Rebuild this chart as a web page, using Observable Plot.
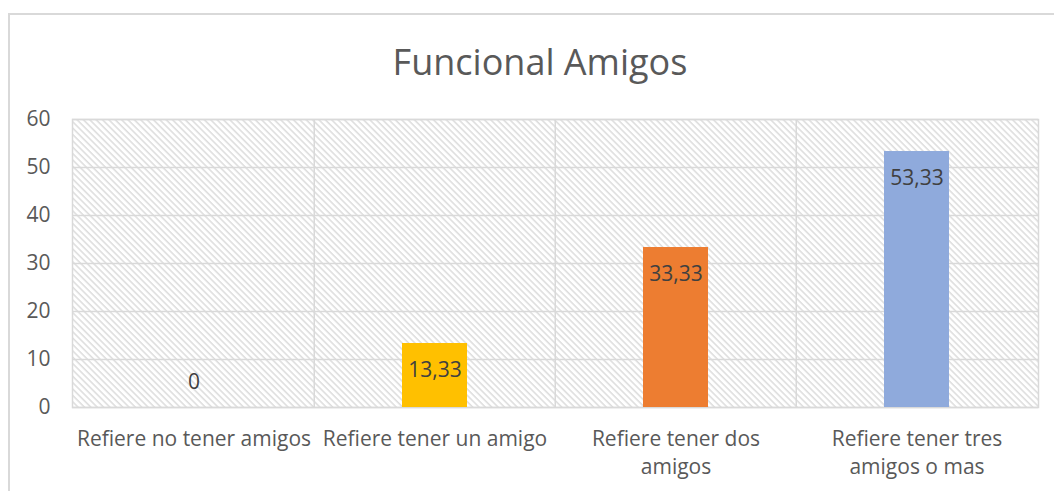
<!DOCTYPE html>
<html>
<head>
<meta charset="utf-8">
<script src="https://cdn.jsdelivr.net/npm/d3@7"></script>
<script src="https://cdn.jsdelivr.net/npm/@observablehq/plot@0.6"></script>
<style>
  html, body { margin: 0; padding: 0; background: #fff; }
  #wrap { position: relative; width: 1054px; height: 491px; overflow: hidden; font-family: "Open Sans", Lato, sans-serif; }
  #border { position: absolute; left: 8px; top: 13px; width: 1100px; height: 600px; border: 2px solid #d9d9d9; box-sizing: border-box; }
  #title { position: absolute; left: 9px; width: 1062px; top: 38px; text-align: center; font-size: 36px; color: #595959; line-height: 48px; }
  #chart { position: absolute; left: 0; top: 95px; }
</style>
</head>
<body>
<div id="wrap">
  <div id="border"></div>
  <div id="title">Funcional Amigos</div>
  <div id="chart"></div>
</div>
<script>
const categories = ["Refiere no tener amigos", "Refiere tener un amigo", "Refiere tener dos amigos", "Refiere tener tres amigos o mas"];
const values = [0, 13.33, 33.33, 53.33];
const labels = ["0", "13,33", "33,33", "53,33"];
const colors = ["#ffffff", "#FFC000", "#ED7D31", "#8FAADC"];
const tickLabels = ["Refiere no tener amigos", "Refiere tener un amigo", "Refiere tener dos\namigos", "Refiere tener tres\namigos o mas"];
const yTicks = [0, 10, 20, 30, 40, 50, 60];

const data = categories.map((c, i) => ({cat: c, value: values[i], label: labels[i], color: colors[i]}));
const tickMap = new Map(categories.map((c, i) => [c, tickLabels[i]]));

const W = 1054, ML = 72, MR = 16;
const band = (W - ML - MR) / categories.length;
const grid = "#d9d9d9";
const FS = 21;
const chart = Plot.plot({
  width: W,
  height: 396,
  marginTop: 24,
  marginBottom: 84,
  marginLeft: ML,
  marginRight: MR,
  style: {fontFamily: "'Open Sans', Lato, sans-serif", fontSize: FS + "px", color: "#595959", background: "transparent", overflow: "visible"},
  x: {domain: categories, padding: 0, axis: null, label: null},
  y: {domain: [0, 60], axis: null, label: null},
  marks: [
    Plot.frame({fill: "white", stroke: "none", className: "hatch-frame"}),
    Plot.ruleY(yTicks, {stroke: grid, strokeWidth: 1.5}),
    Plot.ruleX(categories.slice(1), {x: d => d, dx: -band / 2, stroke: grid, strokeWidth: 1.5}),
    Plot.frame({stroke: grid, strokeWidth: 1.5}),
    Plot.barY(data, {x: "cat", y: "value", fill: "color", insetLeft: 88, insetRight: 88}),
    Plot.text(data.filter(d => d.value > 0), {x: "cat", y: "value", text: "label", dy: 27, fill: "#404040", fontSize: FS}),
    Plot.text(data.filter(d => d.value === 0), {x: "cat", y: "value", text: "label", dy: -25, fill: "#404040", fontSize: FS}),
    Plot.axisY(yTicks, {tickSize: 0, tickPadding: 22, fill: "#595959", fontSize: FS, label: null, tickFormat: d => String(d)}),
    Plot.axisX(categories, {tickSize: 0, tickPadding: 18, fill: "#595959", fontSize: FS, label: null, lineHeight: 1.36, tickFormat: d => tickMap.get(d), textOverflow: null, lineWidth: Infinity})
  ]
});

// hatch pattern
const svg = d3.select(chart);
const defs = svg.insert("defs", ":first-child");
const pat = defs.append("pattern").attr("id", "hatch").attr("patternUnits", "userSpaceOnUse")
  .attr("width", 4.5).attr("height", 4.5).attr("patternTransform", "rotate(-45)");
pat.append("rect").attr("width", 4.5).attr("height", 4.5).attr("fill", "white");
pat.append("line").attr("x1", 1).attr("y1", 0).attr("x2", 1).attr("y2", 4.5).attr("stroke", "#d6d6d6").attr("stroke-width", 1.3);
svg.selectAll(".hatch-frame, .hatch-frame rect").attr("fill", "url(#hatch)");
svg.selectAll("rect.hatch-frame").attr("fill", "url(#hatch)");
document.getElementById("chart").appendChild(chart);
</script>
</body>
</html>
